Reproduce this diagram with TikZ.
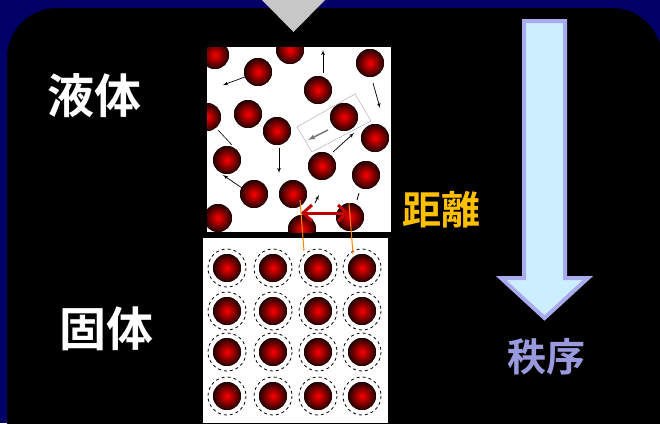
\documentclass[tikz,border=0pt]{standalone}
\usepackage{fontspec}
\usepackage{xcolor}
\usepackage{tikz}
\usetikzlibrary{arrows}
\usetikzlibrary{arrows.meta}
\newfontfamily\cjk{Noto Sans CJK JP}[BoldFont={Noto Sans CJK JP Bold}]
\definecolor{navyblue}{HTML}{000066}
\definecolor{ordfill}{HTML}{CCEEFF}
\definecolor{ordline}{HTML}{AAAAEE}
\definecolor{ordtext}{HTML}{9999DD}
\definecolor{disttext}{HTML}{FFC000}
\definecolor{distred}{HTML}{C00000}
\tikzset{
  atom/.style={shade, inner color=red, outer color=black!88!red},
  label/.style={font=\cjk\bfseries\fontsize{47}{47}\selectfont, text=white},
  gap/.style={draw=distred, line width=3pt, line join=miter},
}

\begin{document}
\begin{tikzpicture}[x=1pt, y=-1pt]
    \useasboundingbox (0,0) rectangle (660,423);
    \fill[navyblue] (0,0) rectangle (660,423);
    \fill[black, rounded corners=50pt] (7,8) rectangle (662,480);
    \fill[black!22] (262,0) -- (325,0) -- (293.5,32) -- cycle;

    % liquid
    \begin{scope}
      \clip (207,47) rectangle (391,232);
      \fill[white] (207,47) rectangle (391,232);
      \draw[black!35, thin] (297,127) -- (355,94) -- (371,121) -- (312,152) -- cycle;
      \draw[black!55, line width=1.5pt, -latex'] (328,130) -- (308,140);
      \foreach \x/\y in {215/55, 290/50, 258/72, 370/63, 318/90, 207/117,
                         248/114, 277/131, 344/117, 375/138, 227/160, 322/166,
                         366/175, 254/194, 293/194, 218/218, 302/229, 350/217}{
        \fill[atom] (\x,\y) circle[radius=14];
      }
      \foreach \xa/\ya/\xb/\yb in {245/77/223/85, 323/73/323/50, 373/83/380/108,
                                   279/148/279/173, 333/152/354/133, 242/188/223/175,
                                   315/203/319/195}{
        \draw[black, line width=0.7pt, -latex'] (\xa,\ya) -- (\xb,\yb);
      }
      \draw[black, line width=0.6pt] (218,130) -- (232,145);
      \draw[black, line width=0.8pt] (359,193) -- (357,200);
    \end{scope}
    \node[label] (liquid) at (94,96) {液体};

    % solid
    \fill[white] (203,238) rectangle (388,423);
    \foreach \x in {227,273,318,362}{
      \foreach \y in {268,311,352,396}{
        \fill[atom] (\x,\y) circle[radius=14];
        \draw[black, line width=0.8pt, dash pattern=on 3pt off 3pt] (\x,\y) circle[radius=19];
      }
    }
    \node[label] (solid) at (106,329) {固体};

    % distance
    \coordinate (d1a) at (300,200);
    \coordinate (d1b) at (304,251);
    \coordinate (d2a) at (349,203);
    \coordinate (d2b) at (353,254);
    \coordinate (pl) at (303,213);
    \coordinate (pr) at (347,213);
    \draw[gap] (pl) -- (pr);
    \draw[gap] ([xshift=9pt,yshift=8pt]pl) -- (pl) -- ([xshift=9pt,yshift=-8pt]pl);
    \draw[gap] ([xshift=-9pt,yshift=8pt]pr) -- (pr) -- ([xshift=-9pt,yshift=-8pt]pr);
    \draw[orange, line width=1pt] (d1a) -- (d1b);
    \draw[orange, line width=1pt] (d2a) -- (d2b);
    \node[label, text=disttext, font=\cjk\bfseries\fontsize{39}{39}\selectfont] (dist) at (441,210) {距離};

    % order
    \draw[draw=ordline, fill=ordfill, line width=4pt, line join=miter]
    (524,21) -- (565,21) -- (565,278) -- (588,278) -- (544.5,318) -- (501,278) -- (524,278) -- cycle;
    \node[label, text=ordtext, font=\cjk\bfseries\fontsize{39}{39}\selectfont] (order) at (546,357) {秩序};
\end{tikzpicture}
\end{document}
